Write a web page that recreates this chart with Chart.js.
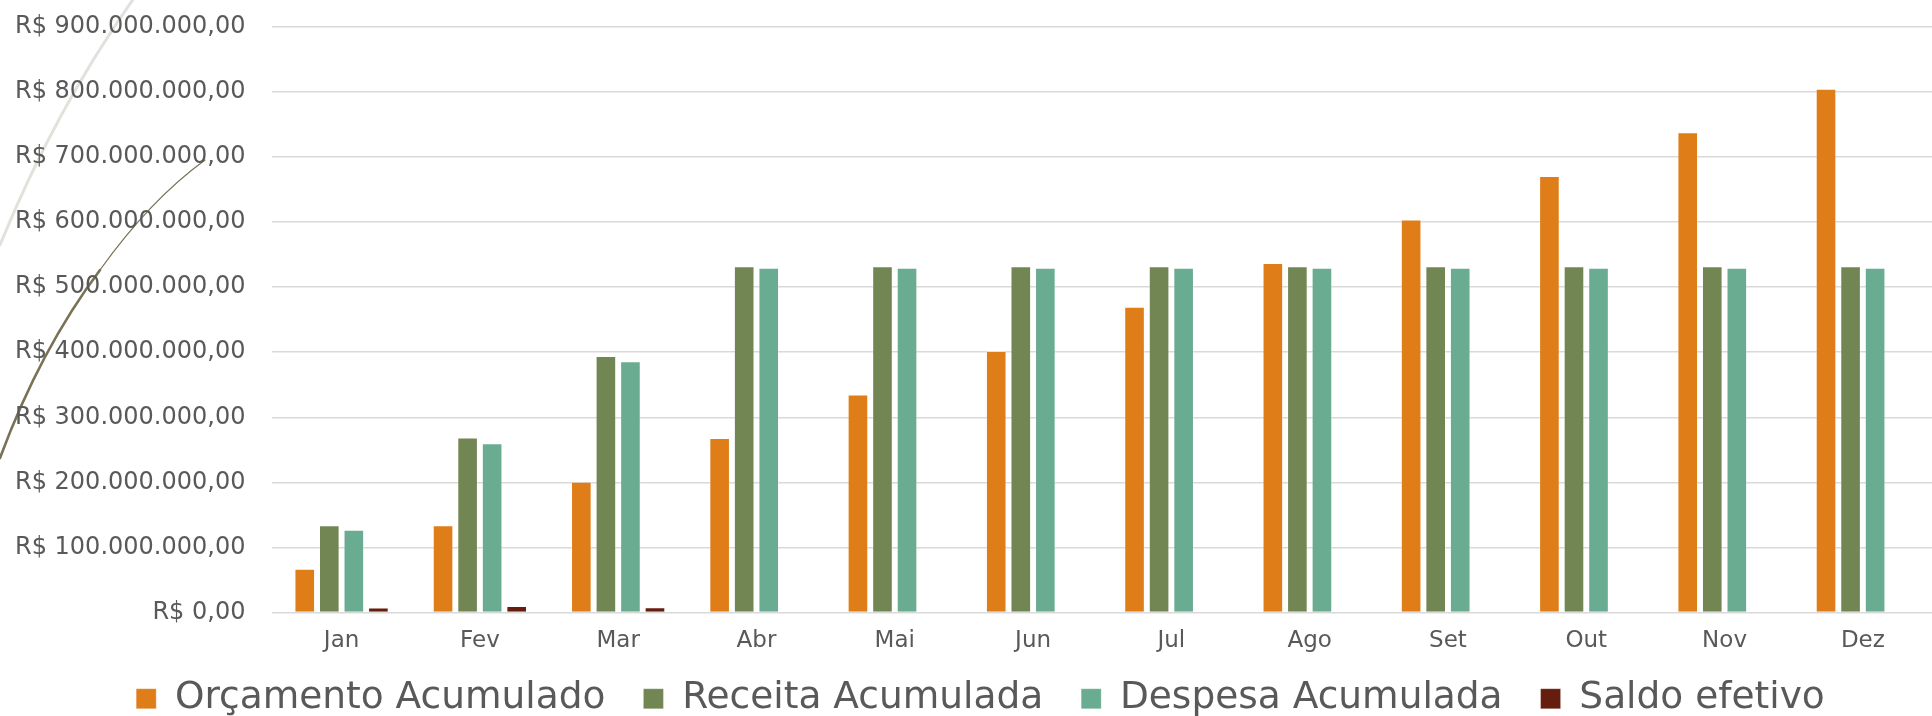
<!DOCTYPE html>
<html>
<head>
<meta charset="utf-8">
<script src="https://cdn.jsdelivr.net/npm/chart.js@4.4.1/dist/chart.umd.min.js"></script>
<style>
  html, body { margin: 0; padding: 0; background: #fff; }
  #wrap { width: 1932px; height: 716px; position: relative; }
</style>
</head>
<body>
<div id="wrap"><canvas id="chart"></canvas></div>
<script>
// months
const meses = ['Jan', 'Fev', 'Mar', 'Abr', 'Mai', 'Jun', 'Jul', 'Ago', 'Set', 'Out', 'Nov', 'Dez'];

// values in R$
const orcamentoAcumulado = [67000000, 134000000, 201000000, 268000000, 335000000, 402000000, 470000000, 537000000, 604000000, 671000000, 738000000, 805000000];
const receitaAcumulada = [134000000, 269000000, 394000000, 532000000, 532000000, 532000000, 532000000, 532000000, 532000000, 532000000, 532000000, 532000000];
const despesaAcumulada = [127000000, 260000000, 386000000, 530000000, 530000000, 530000000, 530000000, 530000000, 530000000, 530000000, 530000000, 530000000];
const saldoEfetivo = [7500000, 10000000, 8000000, null, null, null, null, null, null, null, null, null];

const yMax = 900000000;
const yStep = 100000000;

function formatBRL(v) {
    const parts = Math.round(v).toString().replace(/\B(?=(\d{3})+(?!\d))/g, '.');
    return 'R$ ' + parts + ',00';
}

// slide decoration: the two thin curves on the left edge
const curvas = {
    id: 'curvas',
    beforeDraw(chart) {
        const ctx = chart.ctx;
        ctx.save();
        ctx.lineCap = 'round';
        ctx.strokeStyle = '#e2e1dc';
        ctx.lineWidth = 3;
        ctx.beginPath();
        ctx.moveTo(134, -2);
        ctx.quadraticCurveTo(55, 110, 0, 245);
        ctx.stroke();

        ctx.strokeStyle = '#7a7254';
        ctx.lineWidth = 1.2;
        ctx.beginPath();
        ctx.moveTo(205, 160);
        ctx.quadraticCurveTo(150, 200, 100, 270);
        ctx.stroke();
        ctx.lineWidth = 2.6;
        ctx.beginPath();
        ctx.moveTo(100, 270);
        ctx.quadraticCurveTo(40, 350, 0, 458);
        ctx.stroke();
        ctx.restore();
    }
};

// the legend needs wide gaps between items but little height:
// keep the item padding, shrink the reserved box, then move it down
const legendaCompacta = {
    id: 'legendaCompacta',
    beforeInit(chart) {
        const legend = chart.legend;
        const fit = legend.fit;
        legend.fit = function () {
            fit.call(this);
            this.height = 61;
        };
    },
    afterLayout(chart) {
        const l = chart.legend;
        const pad = l.options.labels.padding;
        l.top = 680 - pad;
        l.bottom = 716;
        l.left += 7;
        l.right += 7;
    }
};

const borda = 'rgba(255,255,255,0.25)';
const semCor = 'rgba(0,0,0,0)';

new Chart(document.getElementById('chart'), {
    type: 'bar',
    data: {
        labels: meses,
        datasets: [
            { label: 'Orçamento Acumulado', data: orcamentoAcumulado, backgroundColor: '#df7e19', borderColor: borda, borderWidth: 1 },
            { label: 'Receita Acumulada', data: receitaAcumulada, backgroundColor: '#728653', borderColor: borda, borderWidth: 1 },
            { label: 'Despesa Acumulada', data: despesaAcumulada, backgroundColor: '#69ac91', borderColor: borda, borderWidth: 1 },
            { label: 'Saldo efetivo', data: saldoEfetivo, backgroundColor: '#651d0d', borderColor: borda, borderWidth: 1 },
        ],
    },
    options: {
        responsive: true,
        maintainAspectRatio: false,
        animation: false,
        datasets: {
            bar: { categoryPercentage: 0.71, barPercentage: 0.84 }
        },
        layout: { padding: { top: 27, left: 15, right: 0, bottom: 0 } },
        plugins: {
            tooltip: { enabled: false },
            legend: {
                position: 'bottom',
                labels: {
                    font: { family: 'DejaVu Sans', size: 37.5 },
                    color: '#595959',
                    boxWidth: 20,
                    boxHeight: 20,
                    padding: 38,
                },
            },
        },
        scales: {
            x: {
                // invisible tick marks give the gap under the bars
                grid: { display: false, drawTicks: true, tickLength: 15, tickColor: semCor },
                border: { display: false },
                ticks: {
                    font: { family: 'DejaVu Sans', size: 23 },
                    color: '#595959',
                    padding: 0,
                },
            },
            y: {
                min: 0,
                max: yMax,
                grid: { color: '#d9d9d9', lineWidth: 1.5, drawTicks: true, tickLength: 27, tickColor: semCor },
                border: { display: false },
                ticks: {
                    stepSize: yStep,
                    font: { family: 'DejaVu Sans', size: 24 },
                    color: '#595959',
                    padding: 0,
                    callback: (v) => formatBRL(v),
                },
            },
        },
    },
    plugins: [curvas, legendaCompacta],
});
</script>
</body>
</html>
